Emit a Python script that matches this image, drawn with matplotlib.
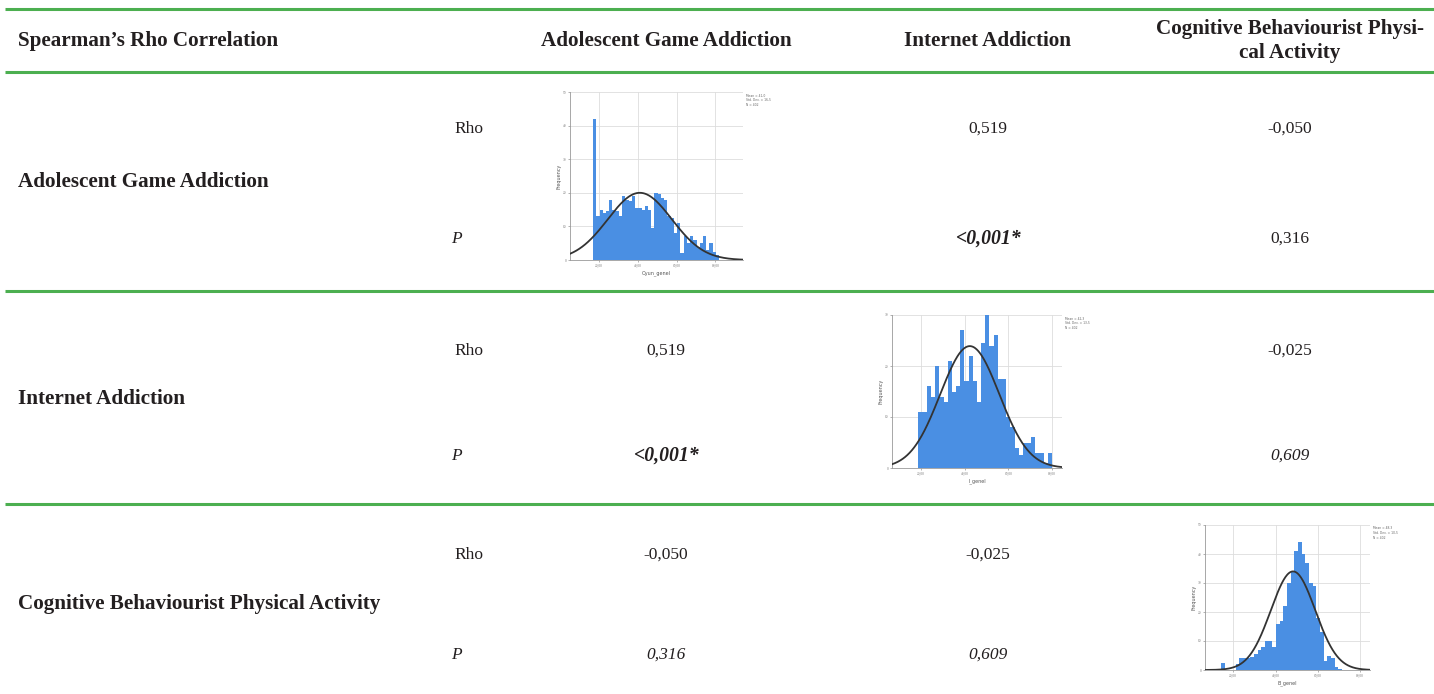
import numpy as np
import matplotlib
matplotlib.use("Agg")
import matplotlib.pyplot as plt

plt.rcParams['font.family'] = ['Liberation Serif', 'DejaVu Serif']

W, H = 1434, 694

COLUMNS = ["Adolescent Game Addiction", "Internet Addiction",
           "Cognitive Behaviourist Physi-\ncal Activity"]
ROWS = ["Adolescent Game Addiction", "Internet Addiction",
        "Cognitive Behaviourist Physical Activity"]
# correlation cells ; None = histogram on the diagonal
RHO = [[None, "0,519", "-0,050"],
       ["0,519", None, "-0,025"],
       ["-0,050", "-0,025", None]]
PVAL = [[None, "<0,001*", "0,316"],
        ["<0,001*", None, "0,609"],
        ["0,316", "0,609", None]]
P_STYLE = [[None, "bolditalic", "normal"],
           ["bolditalic", None, "italic"],
           ["italic", "italic", None]]

# histogram 1 (game addiction)
hist1_start, hist1_end = 16.9, 81.9
hist1_counts = [42, 13, 15, 14, 14.5, 18, 15, 14.5, 13, 19, 18, 17.5, 19, 15.5, 15.5,
                15, 16, 15, 9.5, 20, 19.5, 18.5, 18, 13, 12.5, 8, 11, 2, 7, 5, 7, 6,
                4, 5, 7, 3, 5, 2.5, 1.5]
hist1_fit = (41.0, 16.5, 20.0)   # mean, sd, peak height

# histogram 2 (internet addiction)
hist2_start, hist2_end = 18.8, 80.0
hist2_counts = [11, 11, 16, 14, 20, 14, 13, 21, 15, 16, 27, 17, 22, 17, 13, 24.5,
                30, 24, 26, 17.5, 17.5, 10, 8, 4, 2.5, 5, 5, 6, 3, 3, 1, 3]
hist2_fit = (42.3, 13.5, 23.9)

# histogram 3 (physical activity)
hist3_start, hist3_end = 14.2, 71.5
hist3_counts = [2.3, 0, 0, 0, 2, 4, 4, 4, 4.5, 5.5, 7, 8, 10, 10, 8, 16, 17, 22, 30,
                34, 41, 44, 40, 37, 30, 29, 18, 13, 3, 5, 4, 1, 0.5]
hist3_fit = (48.3, 10.5, 34.0)

GREEN = "#4caf50"
BLUE = "#4a8fe3"
INK = "#231f20"

fig = plt.figure(figsize=(W / 100, H / 100), dpi=100)
fig.patch.set_facecolor("white")
ax = fig.add_axes([0, 0, 1, 1])
ax.set_xlim(0, W)
ax.set_ylim(H, 0)
ax.axis("off")

# table rules
for y in [9, 72, 291, 504]:
    ax.plot([5, W], [y, y], color=GREEN, lw=2.2, solid_capstyle="butt")

fs_bold = 15.2
fs = 12.5
ax.text(18, 41, "Spearman’s Rho Correlation", fontsize=fs_bold, fontweight="bold",
        va="center", ha="left", color=INK)
col_x = [666, 988, 1290]
for cx, name in zip(col_x, COLUMNS):
    ax.text(cx, 41, name, fontsize=fs_bold, fontweight="bold", ha="center",
            va="center", color=INK, linespacing=1.25)

row_rho_y = [129, 351, 555]
row_p_y = [239, 456, 655]
row_mid_y = [182, 399, 604]
for i, name in enumerate(ROWS):
    ax.text(18, row_mid_y[i], name, fontsize=fs_bold, fontweight="bold",
            va="center", ha="left", color=INK)
    ax.text(454, row_rho_y[i], "Rho", fontsize=fs, va="center", ha="left",
            color=INK)
    ax.text(451, row_p_y[i], "P", fontsize=fs, style="italic", va="center",
            ha="left", color=INK)
    for j in range(3):
        if RHO[i][j] is None:
            continue
        ax.text(col_x[j], row_rho_y[i], RHO[i][j], fontsize=fs, va="center",
                ha="center", color=INK)
        st = P_STYLE[i][j]
        bold = "bold" in st
        ax.text(col_x[j], row_p_y[i], PVAL[i][j], fontsize=14.2 if bold else fs,
                va="center", ha="center", color=INK,
                style="italic" if "italic" in st else "normal",
                fontweight="bold" if bold else "normal")


def add_hist(box, counts, start, end, fit, xlim, ymax, ystep, xlabel, stats):
    x0, y0, x1, y1 = box
    h = fig.add_axes([x0 / W, 1 - y1 / H, (x1 - x0) / W, (y1 - y0) / H])
    n = len(counts)
    width = (end - start) / n
    lefts = start + width * np.arange(n)
    h.bar(lefts, counts, width=width, align="edge", color=BLUE, linewidth=0,
          zorder=2)
    mean, sd, peak = fit
    xs = np.linspace(xlim[0], xlim[1], 300)
    h.plot(xs, peak * np.exp(-0.5 * ((xs - mean) / sd) ** 2), color="#333333",
           lw=1.3, zorder=3)
    h.set_xlim(*xlim)
    h.set_ylim(0, ymax)
    h.set_xticks([20, 40, 60, 80], ["20,00", "40,00", "60,00", "80,00"])
    h.set_yticks(np.arange(0, ymax + 0.1, ystep))
    h.grid(True, color="#dddddd", lw=0.6, zorder=0)
    h.set_axisbelow(True)
    for s in ["top", "right"]:
        h.spines[s].set_visible(False)
    for s in ["left", "bottom"]:
        h.spines[s].set_color("#999999")
        h.spines[s].set_linewidth(0.6)
    h.tick_params(labelsize=2.5, length=1.5, width=0.4, pad=1, colors="#777777")
    h.set_ylabel("Frequency", fontsize=3.5, labelpad=1, color="#555555",
                 family="DejaVu Sans")
    h.set_xlabel(xlabel, fontsize=3.5, labelpad=2, color="#555555",
                 family="DejaVu Sans")
    h.text(1.02, 0.99, stats, transform=h.transAxes, fontsize=2.2, va="top",
           ha="left", color="#666666", family="DejaVu Sans")
    h.patch.set_alpha(0)


add_hist((570, 92, 743, 260), hist1_counts, hist1_start, hist1_end, hist1_fit,
         (5.0, 94.2), 50, 10, "Oyun_genel",
         "Mean = 41,0\nStd. Dev. = 16,5\nN = 402")
add_hist((892, 315, 1062, 468), hist2_counts, hist2_start, hist2_end, hist2_fit,
         (6.7, 84.5), 30, 10, "I_genel",
         "Mean = 42,3\nStd. Dev. = 13,5\nN = 402")
add_hist((1205, 525, 1370, 670), hist3_counts, hist3_start, hist3_end, hist3_fit,
         (6.65, 84.7), 50, 10, "B_genel",
         "Mean = 48,3\nStd. Dev. = 10,5\nN = 402")

fig.savefig("out.png", dpi=100, facecolor="white")
